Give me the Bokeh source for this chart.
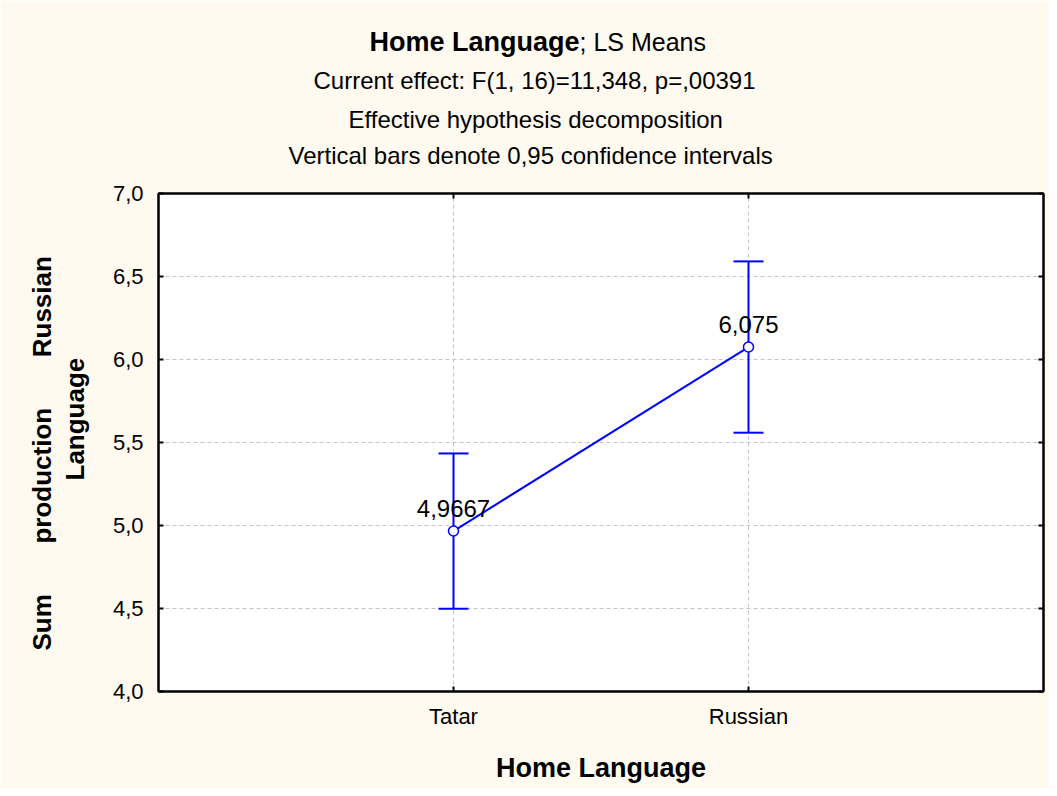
from bokeh.plotting import figure
from bokeh.models import (Whisker, TeeHead, ColumnDataSource, FixedTicker,
                          LinearAxis, Range1d, Title)
from bokeh.core.properties import value
from bokeh.embed import file_html
from bokeh.resources import INLINE

# ---- data ----
categories = ["Tatar", "Russian"]
cat_pos = [1, 2]
means = [4.9667, 6.075]
lower = [4.499, 5.559]
upper = [5.434, 6.591]
mean_labels = ["4,9667", "6,075"]
y_ticks = [4.0, 4.5, 5.0, 5.5, 6.0, 6.5, 7.0]
y_tick_labels = ["4,0", "4,5", "5,0", "5,5", "6,0", "6,5", "7,0"]
title_main = "Home Language"
title_rest = "; LS Means"
subtitles = ["Current effect: F(1, 16)=11,348, p=,00391",
             "Effective hypothesis decomposition",
             "Vertical bars denote 0,95 confidence intervals"]
x_title = "Home Language"
y_title_words = ["Sum", "production", "Russian"]
y_title_line2 = "Language"

FONT = "Liberation Sans"
BLUE = "#0000FF"
BG = "#FFFAF0"
NB = "\u00a0"

p = figure(width=1049, height=788, x_range=Range1d(0, 3), y_range=Range1d(4, 7),
           output_backend="svg", toolbar_location=None,
           min_border_left=158, min_border_right=6, min_border_top=193,
           min_border_bottom=97)
p.border_fill_color = BG
p.background_fill_color = "white"
p.outline_line_color = "black"
p.outline_line_width = 2

# axes
p.xaxis.ticker = FixedTicker(ticks=cat_pos)
p.xaxis.major_label_overrides = {c: n for c, n in zip(cat_pos, categories)}
p.yaxis.ticker = FixedTicker(ticks=y_ticks)
p.yaxis.major_label_overrides = {t: l for t, l in zip(y_ticks, y_tick_labels)}
for ax in (p.xaxis[0], p.yaxis[0]):
    ax.axis_line_color = "black"
    ax.axis_line_width = 2
    ax.major_tick_in = 5
    ax.major_tick_out = 0
    ax.major_tick_line_width = 2
    ax.minor_tick_line_color = None
    ax.major_label_text_font = FONT
    ax.major_label_text_font_size = "22px"
    ax.major_label_text_color = "black"
p.xaxis.major_label_standoff = 12
p.yaxis.major_label_standoff = 15
p.xaxis.axis_label = x_title
p.xaxis.axis_label_text_font = FONT
p.xaxis.axis_label_text_font_size = "27px"
p.xaxis.axis_label_text_font_style = "bold"
p.xaxis.axis_label_text_color = "black"
p.xaxis.axis_label_standoff = 21

top_ax = LinearAxis(ticker=FixedTicker(ticks=cat_pos), major_label_text_font_size="0px")
right_ax = LinearAxis(ticker=FixedTicker(ticks=y_ticks), major_label_text_font_size="0px")
for ax in (top_ax, right_ax):
    ax.axis_line_color = "black"
    ax.axis_line_width = 2
    ax.major_tick_in = 5
    ax.major_tick_out = 0
    ax.major_tick_line_width = 2
    ax.minor_tick_line_color = None
    ax.major_label_standoff = 0
p.add_layout(top_ax, "above")
p.add_layout(right_ax, "right")

# grid
p.xgrid.ticker = FixedTicker(ticks=cat_pos)
p.ygrid.ticker = FixedTicker(ticks=y_ticks[1:-1])
for g in (p.xgrid[0], p.ygrid[0]):
    g.grid_line_color = "#c4c4c4"
    g.grid_line_dash = "4 3"
    g.grid_line_width = 1

# data marks
src = ColumnDataSource(dict(x=cat_pos, mean=means, lo=lower, hi=upper, lab=mean_labels))
wh = Whisker(base="x", lower="lo", upper="hi", source=src, line_color=BLUE, line_width=2,
             upper_head=TeeHead(size=30, line_color=BLUE, line_width=2),
             lower_head=TeeHead(size=30, line_color=BLUE, line_width=2))
p.add_layout(wh)
p.line("x", "mean", source=src, line_color=BLUE, line_width=2)
p.scatter("x", "mean", source=src, size=10, fill_color="white", line_color=BLUE,
          line_width=1.5)
p.text("x", "mean", text="lab", source=src, text_align="center",
       text_baseline="alphabetic", y_offset=-23, text_font=value(FONT),
       text_font_size="24px", text_color="black")


def title(text, loc, offset, standoff, size="24px", style="normal"):
    p.add_layout(Title(text=text, align="left", offset=offset, text_font=FONT,
                       text_font_size=size, text_font_style=style,
                       text_color="black", standoff=standoff), loc)


# spacer between frame and the subtitle block
title(NB, "above", 0, 21, "2px")
# subtitles as stacked titles (closest to plot first)
title(subtitles[2], "above", 130, 0)
title(subtitles[1], "above", 190, 14)
title(subtitles[0], "above", 155, 6)
# main title: bold part, then normal part overlapped onto the same row
title(title_main, "above", 211, 10, "27px", "bold")
title(title_rest, "above", 421, -72, "25px", "normal")

# y axis titles on the left
title(y_title_line2, "left", 211, 40, "26px", "bold")
title((NB * 7).join(y_title_words), "left", 41, -38, "26px", "bold")

open("out.html", "w").write(file_html(p, INLINE))
